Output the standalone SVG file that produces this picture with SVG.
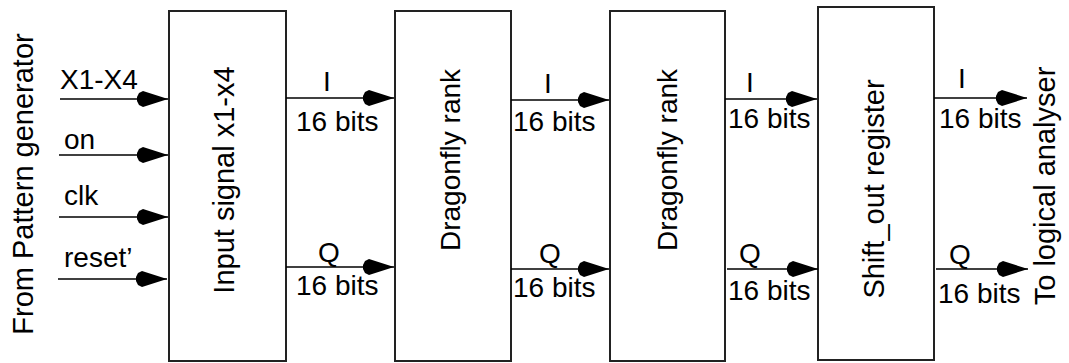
<svg xmlns="http://www.w3.org/2000/svg" width="1069" height="363" viewBox="0 0 1069 363">
  <style>
    .box { fill: #ffffff; stroke: #222222; stroke-width: 2; }
    .wire { stroke: #000000; stroke-width: 1.5; fill: none; marker-end: url(#dart); }
    text { font-family: "Liberation Sans", Arial, sans-serif; font-size: 28px; fill: #000000; }
    .mid { text-anchor: middle; }
    .vert { font-size: 29px; }
  </style>
  <defs>
    <marker id="dart" markerUnits="userSpaceOnUse" markerWidth="36" markerHeight="20" viewBox="-34 -10 36 20" refX="0" refY="0" orient="auto">
      <path d="M0,0 L-25,-8 L-29,-6 L-31,-2 L-31,2 L-29,6 L-25,8 Z" fill="#000000"/>
    </marker>
  </defs>

  <!-- source / sink labels -->
  <text id="source" class="mid vert" transform="translate(33,184) rotate(-90)">From Pattern generator</text>
  <text id="sink" class="mid vert" transform="translate(1055,186) rotate(-90)">To logical analyser</text>

  <!-- processing blocks -->
  <g id="input-block">
    <rect class="box" x="169" y="11" width="117" height="350"/>
    <text class="mid vert" transform="translate(234,180) rotate(-90)">Input signal x1-x4</text>
  </g>
  <g id="dragonfly-1">
    <rect class="box" x="395" y="11" width="116" height="350"/>
    <text class="mid" transform="translate(460,160) rotate(-90)">Dragonfly rank</text>
  </g>
  <g id="dragonfly-2">
    <rect class="box" x="610" y="11" width="115" height="350"/>
    <text class="mid" transform="translate(677,160) rotate(-90)">Dragonfly rank</text>
  </g>
  <g id="shift-out">
    <rect class="box" x="818" y="7" width="116" height="353"/>
    <text class="mid vert" transform="translate(884,189) rotate(-90)">Shift_out register</text>
  </g>

  <!-- signal wires -->
  <g id="connectors">
    <line class="wire" x1="60" y1="99" x2="168" y2="99"/>
    <line class="wire" x1="59" y1="155" x2="168" y2="155"/>
    <line class="wire" x1="59" y1="217" x2="168" y2="217"/>
    <line class="wire" x1="58" y1="279" x2="167" y2="279"/>

    <line class="wire" x1="286" y1="98" x2="394" y2="98"/>
    <line class="wire" x1="286" y1="267" x2="394" y2="267"/>
    <line class="wire" x1="511" y1="100" x2="609" y2="100"/>
    <line class="wire" x1="511" y1="269" x2="609" y2="269"/>
    <line class="wire" x1="725" y1="99" x2="817" y2="99"/>
    <line class="wire" x1="727" y1="269" x2="818" y2="269"/>
    <line class="wire" x1="934" y1="98" x2="1027" y2="98"/>
    <line class="wire" x1="936" y1="269" x2="1028" y2="269"/>
  </g>

  <!-- wire labels -->
  <g id="wire-labels">
    <text x="60" y="89">X1-X4</text>
    <text x="64" y="149">on</text>
    <text x="64" y="205">clk</text>
    <text x="64" y="267">reset’</text>

    <text class="mid" x="327" y="91">I</text>
    <text x="296" y="131">16 bits</text>
    <text class="mid" x="329" y="262">Q</text>
    <text x="296" y="295">16 bits</text>

    <text class="mid" x="548" y="93">I</text>
    <text x="513" y="131">16 bits</text>
    <text class="mid" x="550" y="263">Q</text>
    <text x="513" y="297">16 bits</text>

    <text class="mid" x="750" y="92">I</text>
    <text x="728" y="128">16 bits</text>
    <text class="mid" x="750" y="263">Q</text>
    <text x="728" y="300">16 bits</text>

    <text class="mid" x="962" y="88">I</text>
    <text x="939" y="128">16 bits</text>
    <text class="mid" x="960" y="264">Q</text>
    <text x="938" y="303">16 bits</text>
  </g>
</svg>
